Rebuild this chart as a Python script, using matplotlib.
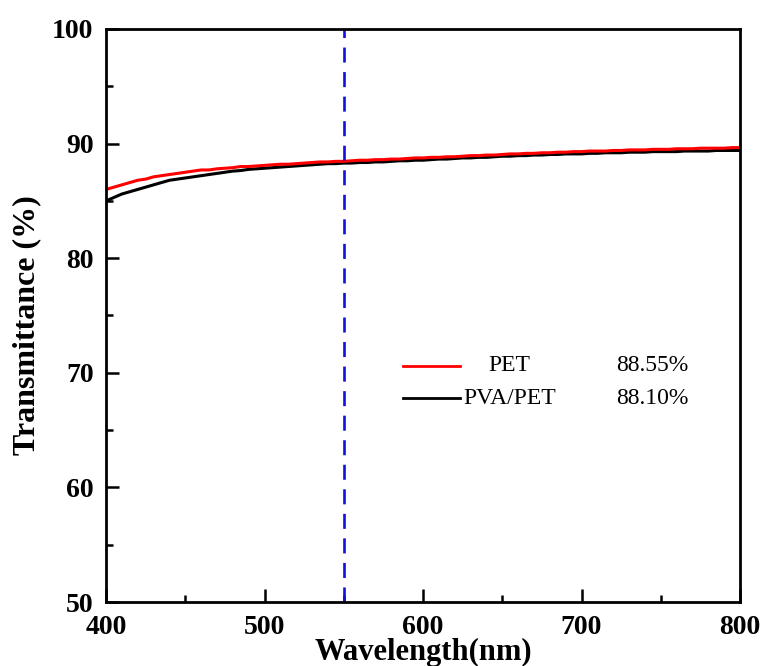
import matplotlib
matplotlib.use("Agg")
import matplotlib.pyplot as plt
import numpy as np

plt.rcParams['font.family'] = ['Liberation Serif', 'DejaVu Serif']

wavelength = list(range(400, 801, 5))
pet = [86.0, 86.2, 86.4, 86.6, 86.8, 86.9, 87.1, 87.2, 87.3, 87.4,
       87.5, 87.6, 87.7, 87.7, 87.8, 87.85, 87.9, 88.0, 88.0, 88.05,
       88.1, 88.15, 88.2, 88.2, 88.25, 88.3, 88.35, 88.4, 88.4, 88.45,
       88.45, 88.5, 88.55, 88.55, 88.6, 88.6, 88.65, 88.65, 88.7, 88.75,
       88.75, 88.8, 88.8, 88.85, 88.85, 88.9, 88.95, 88.95, 89.0, 89.0,
       89.05, 89.1, 89.1, 89.15, 89.15, 89.2, 89.2, 89.25, 89.25, 89.3,
       89.3, 89.35, 89.35, 89.35, 89.4, 89.4, 89.45, 89.45, 89.45, 89.5,
       89.5, 89.5, 89.55, 89.55, 89.55, 89.6, 89.6, 89.6, 89.6, 89.65, 89.65]
pva_pet = [85.0, 85.3, 85.6, 85.8, 86.0, 86.2, 86.4, 86.6, 86.8, 86.9,
           87.0, 87.1, 87.2, 87.3, 87.4, 87.5, 87.6, 87.65, 87.75, 87.8,
           87.85, 87.9, 87.95, 88.0, 88.05, 88.1, 88.15, 88.2, 88.25, 88.25,
           88.3, 88.3, 88.35, 88.35, 88.4, 88.4, 88.45, 88.5, 88.5, 88.55,
           88.55, 88.6, 88.65, 88.65, 88.7, 88.75, 88.75, 88.8, 88.8, 88.85,
           88.9, 88.9, 88.95, 88.95, 89.0, 89.0, 89.05, 89.05, 89.1, 89.1,
           89.1, 89.15, 89.15, 89.2, 89.2, 89.2, 89.25, 89.25, 89.25, 89.3,
           89.3, 89.3, 89.3, 89.35, 89.35, 89.35, 89.35, 89.4, 89.4, 89.4, 89.4]
series_labels = ["PET", "PVA/PET"]
series_values = ["88.55%", "88.10%"]
series_colors = ["#ff0000", "#000000"]
marker_wavelength = 550

fig = plt.figure(figsize=(7.63, 6.66), dpi=100)
ax = fig.add_axes([106/763, 64/666, 634/763, 573/666])

for y, c in zip([pva_pet, pet], [series_colors[1], series_colors[0]]):
    ax.plot(wavelength, y, color=c, lw=2.2)

ax.axvline(marker_wavelength, color='#1010e0', lw=1.9, linestyle=(0, (5.7, 3.6)))

ax.set_xlim(400, 800)
ax.set_ylim(50, 100)
ax.set_xticks([400, 500, 600, 700, 800])
ax.set_xticks(np.arange(450, 800, 100), minor=True)
ax.set_yticks([50, 60, 70, 80, 90, 100])
ax.set_yticks(np.arange(55, 100, 10), minor=True)
ax.tick_params(which='both', direction='in', width=1.8, labelsize=20, top=False, right=False)
ax.tick_params(which='major', length=9.5)
ax.tick_params(which='minor', length=5)
for lab in ax.get_xticklabels() + ax.get_yticklabels():
    lab.set_fontweight('bold')
ax.tick_params(axis='x', pad=9)
ax.tick_params(axis='y', pad=9)
for s in ax.spines.values():
    s.set_linewidth(2.0)

ax.set_xlabel("Wavelength(nm)", fontsize=22, fontweight='bold')
ax.xaxis.set_label_coords(0.5, -0.062)
ax.set_ylabel("Transmittance (%)", fontsize=23, fontweight='bold')
ax.yaxis.set_label_coords(-0.102, 0.483)

# legend drawn manually
ys = [0.412, 0.356]
for i in range(2):
    ax.plot([0.468, 0.558], [ys[i], ys[i]], transform=ax.transAxes,
            color=series_colors[i], lw=2.0, clip_on=False)
    ax.text(0.804, ys[i], series_values[i], transform=ax.transAxes,
            fontsize=17, va='center', ha='left')
ax.text(0.637, ys[0], series_labels[0], transform=ax.transAxes, fontsize=17, va='center', ha='center')
ax.text(0.563, ys[1], series_labels[1], transform=ax.transAxes, fontsize=17, va='center', ha='left')

fig.savefig("out.png", dpi=100)
